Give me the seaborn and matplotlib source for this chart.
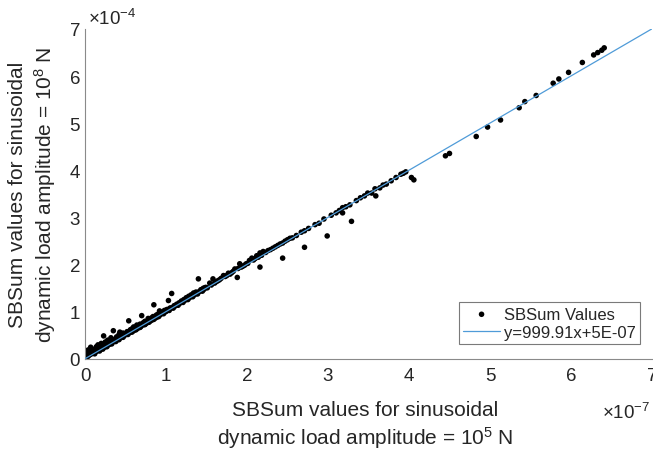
import matplotlib
matplotlib.use("Agg")
import matplotlib.pyplot as plt
import seaborn as sns
import pandas as pd

# ---------------- data (x in units of 1e-7, y in units of 1e-4) ----------------
X_SCALE_EXP = -7
Y_SCALE_EXP = -4

x_seg_origin = [0.00, 0.01, 0.01, 0.02, 0.02, 0.03, 0.03, 0.04, 0.05, 0.05, 0.06, 0.07, 0.07, 0.08, 0.09, 0.10]
y_seg_origin = [0.02, 0.05, 0.12, 0.03, 0.18, 0.08, 0.14, 0.06, 0.10, 0.20, 0.09, 0.25, 0.13, 0.11, 0.16, 0.12]

x_seg_low = [0.11, 0.12, 0.13, 0.14, 0.15, 0.16, 0.17, 0.18, 0.19, 0.20,
             0.21, 0.22, 0.23, 0.24, 0.25, 0.26, 0.27, 0.28, 0.29, 0.30,
             0.31, 0.32, 0.33, 0.34, 0.35, 0.36, 0.37, 0.38, 0.39, 0.40,
             0.41, 0.42, 0.43, 0.44, 0.45, 0.46, 0.47, 0.48, 0.49, 0.50,
             0.12, 0.18, 0.22, 0.27, 0.33, 0.38, 0.42, 0.47]
y_seg_low = [0.13, 0.21, 0.15, 0.26, 0.17, 0.30, 0.19, 0.24, 0.21, 0.33,
             0.22, 0.28, 0.49, 0.25, 0.36, 0.27, 0.31, 0.40, 0.30, 0.34,
             0.32, 0.45, 0.35, 0.38, 0.60, 0.37, 0.42, 0.40, 0.47, 0.41,
             0.44, 0.52, 0.57, 0.45, 0.49, 0.47, 0.55, 0.49, 0.51, 0.53,
             0.11, 0.17, 0.21, 0.26, 0.32, 0.37, 0.41, 0.46]

x_seg_mid = [0.51, 0.52, 0.53, 0.54, 0.55, 0.56, 0.57, 0.58, 0.59, 0.60,
             0.61, 0.62, 0.63, 0.64, 0.65, 0.66, 0.67, 0.68, 0.69, 0.70,
             0.71, 0.72, 0.73, 0.74, 0.75, 0.76, 0.77, 0.78, 0.79, 0.80,
             0.81, 0.82, 0.83, 0.84, 0.85, 0.86, 0.87, 0.88, 0.89, 0.90,
             0.92, 0.93, 0.95, 0.96, 0.98, 0.99,
             0.53, 0.58, 0.63, 0.68, 0.74, 0.79, 0.85, 0.91, 0.97]
y_seg_mid = [0.52, 0.58, 0.54, 0.81, 0.56, 0.62, 0.58, 0.64, 0.59, 0.68,
             0.61, 0.66, 0.63, 0.72, 0.65, 0.70, 0.67, 0.74, 0.69, 0.92,
             0.72, 0.77, 0.73, 0.80, 0.75, 0.78, 0.77, 0.86, 0.79, 0.82,
             0.81, 0.87, 0.83, 0.90, 1.15, 0.88, 0.87, 0.93, 0.89, 0.95,
             1.02, 0.94, 0.99, 0.97, 1.03, 1.00,
             0.52, 0.57, 0.62, 0.67, 0.73, 0.78, 0.84, 0.90, 0.96]

x_seg_one = [1.00, 1.01, 1.02, 1.03, 1.04, 1.05, 1.06, 1.07, 1.08, 1.10,
             1.11, 1.13, 1.14, 1.16, 1.17, 1.19, 1.20, 1.22, 1.23, 1.25,
             1.26, 1.28, 1.29, 1.31, 1.32, 1.34, 1.35, 1.37, 1.38, 1.40,
             1.41, 1.43, 1.44, 1.46, 1.47, 1.49,
             1.04, 1.09, 1.15, 1.21, 1.27, 1.33, 1.39, 1.45]
y_seg_one = [1.01, 1.05, 1.03, 1.24, 1.06, 1.08, 1.08, 1.39, 1.09, 1.13,
             1.12, 1.16, 1.15, 1.19, 1.18, 1.23, 1.21, 1.26, 1.24, 1.30,
             1.27, 1.33, 1.30, 1.36, 1.33, 1.40, 1.36, 1.42, 1.39, 1.70,
             1.43, 1.47, 1.45, 1.50, 1.48, 1.52,
             1.03, 1.08, 1.14, 1.20, 1.26, 1.32, 1.38, 1.44]

x_seg_two = [1.48, 1.51, 1.54, 1.56, 1.58, 1.60, 1.62, 1.64, 1.66, 1.68,
             1.71, 1.73, 1.75, 1.77, 1.79, 1.81, 1.83, 1.85, 1.88, 1.89,
             1.91, 1.93, 1.95, 1.97, 1.99, 2.01, 2.03, 2.06, 2.08, 2.10,
             2.12, 2.14, 2.16, 2.16, 2.18, 2.20, 2.23, 2.26, 2.29, 2.32,
             2.35, 2.38, 2.41, 2.44, 2.44, 2.47, 2.50, 2.53]
y_seg_two = [1.51, 1.51, 1.61, 1.57, 1.70, 1.61, 1.64, 1.66, 1.68, 1.71,
             1.77, 1.75, 1.77, 1.82, 1.80, 1.83, 1.86, 1.91, 1.73, 1.92,
             2.02, 1.95, 1.97, 1.99, 2.02, 2.03, 2.09, 2.14, 2.10, 2.13,
             2.19, 2.16, 2.25, 1.95, 2.20, 2.28, 2.26, 2.30, 2.32, 2.35,
             2.38, 2.41, 2.44, 2.46, 2.14, 2.50, 2.53, 2.56]

x_seg_three = [2.56, 2.61, 2.67, 2.71, 2.71, 2.76, 2.84, 2.89, 2.95, 2.99,
               3.04, 3.10, 3.14, 3.18, 3.18, 3.22, 3.27, 3.29, 3.35, 3.40,
               3.45, 3.49, 3.54, 3.59, 3.58, 3.64, 3.68, 3.72, 3.78, 3.84,
               3.90, 3.93, 3.96, 4.03, 4.06]
y_seg_three = [2.57, 2.62, 2.69, 2.72, 2.37, 2.77, 2.85, 2.88, 2.97, 2.61,
               3.05, 3.10, 3.15, 3.21, 3.10, 3.23, 3.27, 2.92, 3.36, 3.42,
               3.46, 3.52, 3.52, 3.46, 3.61, 3.63, 3.69, 3.71, 3.78, 3.85,
               3.92, 3.94, 3.97, 3.85, 3.80]

x_seg_high = [4.45, 4.50, 4.83, 4.97, 5.13, 5.36, 5.43, 5.57, 5.78, 5.85, 5.97, 6.14, 6.28, 6.33, 6.38, 6.41]
y_seg_high = [4.31, 4.36, 4.72, 4.92, 5.07, 5.33, 5.46, 5.59, 5.85, 5.94, 6.08, 6.29, 6.45, 6.50, 6.55, 6.60]

fit_slope = 999.91
fit_intercept = 5e-07
fit_x_range = [0.0, 7.0]

x_ticks = [0, 1, 2, 3, 4, 5, 6, 7]
y_ticks = [0, 1, 2, 3, 4, 5, 6, 7]

scatter_label = "SBSum Values"
fit_label = "y=999.91x+5E-07"
x_label = "SBSum values for sinusoidal\ndynamic load amplitude = 10$^5$ N"
y_label = "SBSum values for sinusoidal\ndynamic load amplitude = 10$^8$ N"

# ---------------- build tables ----------------
xs = (x_seg_origin + x_seg_low + x_seg_mid + x_seg_one + x_seg_two + x_seg_three + x_seg_high)
ys = (y_seg_origin + y_seg_low + y_seg_mid + y_seg_one + y_seg_two + y_seg_three + y_seg_high)
pts = pd.DataFrame({"x": xs, "y": ys})

scale_ratio = 10.0 ** (X_SCALE_EXP - Y_SCALE_EXP)
fit = pd.DataFrame({"x": fit_x_range})
fit["y"] = fit_slope * fit["x"] * scale_ratio + fit_intercept / 10.0 ** Y_SCALE_EXP

# ---------------- style ----------------
sns.set_theme(style="white")
plt.rcParams["font.family"] = ["Liberation Sans", "DejaVu Sans"]
plt.rcParams["mathtext.fontset"] = "custom"
plt.rcParams["mathtext.rm"] = "Liberation Sans"
plt.rcParams["mathtext.it"] = "Liberation Sans:italic"
plt.rcParams["mathtext.bf"] = "Liberation Sans:bold"

text_col = "#262626"
axis_col = "#8a8a8a"

fig = plt.figure(figsize=(6.53, 4.56), dpi=100)
ax = fig.add_axes([85 / 653, 96 / 456, 567 / 653, 330 / 456])

sns.scatterplot(data=pts, x="x", y="y", ax=ax, color="black", s=16,
                edgecolor="none", linewidth=0, label=scatter_label, zorder=2)
sns.lineplot(data=fit, x="x", y="y", ax=ax, color="#4f9bd8", linewidth=0.9,
             label=fit_label, zorder=3)

ax.set_xlim(0, 7)
ax.set_ylim(0, 7)
ax.set_xticks(x_ticks)
ax.set_yticks(y_ticks)
ax.set_xticklabels([str(t) for t in x_ticks])
ax.set_yticklabels([str(t) for t in y_ticks])

for side in ["top", "right"]:
    ax.spines[side].set_visible(False)
for side in ["left", "bottom"]:
    ax.spines[side].set_color(axis_col)
    ax.spines[side].set_linewidth(0.8)

ax.tick_params(axis="both", direction="in", length=3.8, width=0.8,
               color=axis_col, labelcolor=text_col, labelsize=13.5)
ax.tick_params(axis="x", pad=6)
ax.tick_params(axis="y", pad=3.5)

ax.set_xlabel(x_label, fontsize=15, color=text_col, linespacing=1.25)
ax.set_ylabel(y_label, fontsize=15, color=text_col, linespacing=1.25)
ax.xaxis.set_label_coords((365 - 85) / 567, (360 - 401) / 330)
ax.yaxis.set_label_coords((58 - 85) / 567, 0.5)

# exponent (offset) labels as in the original
fig.text(88 / 653, (456 - 25) / 456, r"$\times10^{%d}$" % Y_SCALE_EXP,
         fontsize=13.5, color=text_col, ha="left", va="baseline")
fig.text(650 / 653, (456 - 419) / 456, r"$\times10^{%d}$" % X_SCALE_EXP,
         fontsize=13.5, color=text_col, ha="right", va="baseline")

leg = ax.legend(loc="lower right", bbox_to_anchor=(0.979, 0.045), borderaxespad=0,
                fontsize=12, frameon=True, fancybox=False, framealpha=1,
                edgecolor="#7a7a7a", handlelength=2.2, handletextpad=0.25,
                borderpad=0.25, labelspacing=0.2, markerscale=1.0)
leg.get_frame().set_linewidth(0.8)
for t in leg.get_texts():
    t.set_color(text_col)

fig.savefig("out.png", dpi=100)
